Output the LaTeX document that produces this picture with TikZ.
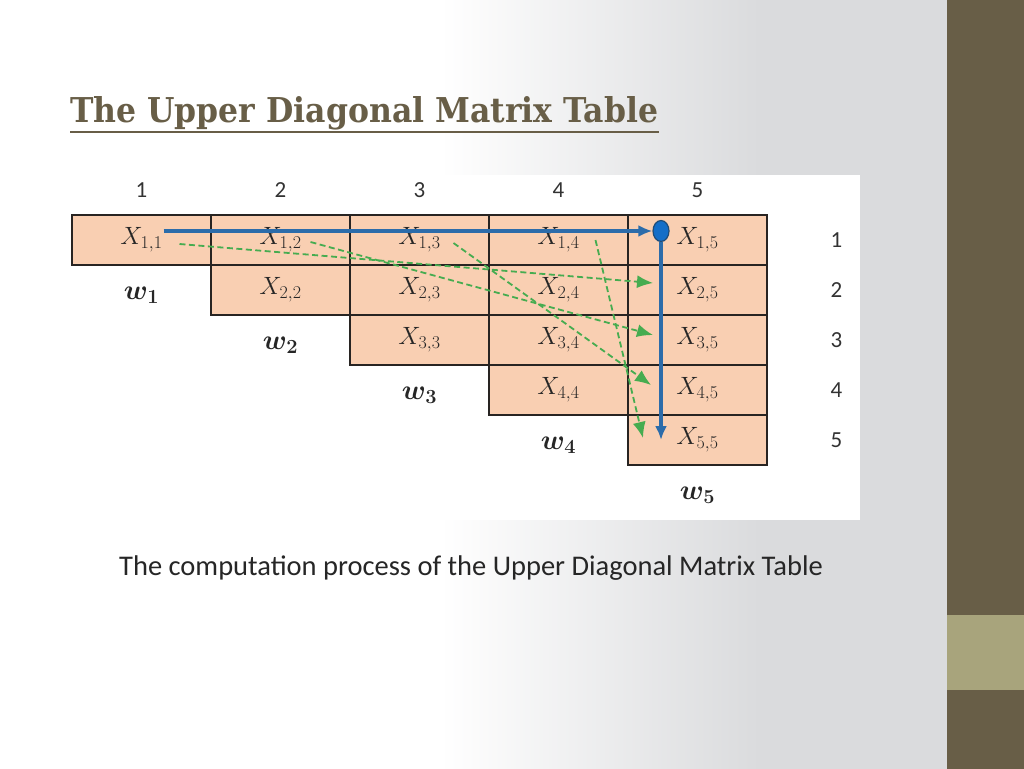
\RequirePackage{fix-cm}
\documentclass[tikz,border=0pt]{standalone}
\usepackage{fontspec}
\usepackage{bm}
\setmainfont{Carlito}
\newfontfamily\titlefont{DejaVu Serif}
\DeclareMathSizes{25}{25}{18}{13}
\DeclareMathSizes{28}{28}{20}{14}
\usetikzlibrary{positioning, arrows.meta, calc, shapes.geometric}
\definecolor{slidegrey}{RGB}{218,219,221}
\definecolor{sidedark}{RGB}{104,94,71}
\definecolor{sidelight}{RGB}{168,164,124}
\definecolor{cellfill}{RGB}{249,207,178}
\definecolor{cellline}{RGB}{40,36,34}
\definecolor{pathblue}{RGB}{44,108,170}
\definecolor{dotblue}{RGB}{20,110,200}
\definecolor{stepgreen}{RGB}{70,172,80}
\tikzset{
	>={Latex[length=14pt,width=12pt]}, % triangle heads
	cell/.style={draw=cellline, line width=1.4pt, fill=cellfill, minimum width=139pt, minimum height=50pt, inner sep=0pt, outer sep=0pt, font=\fontsize{25}{25}\selectfont, text=black!85},
	collab/.style={node distance=50pt, font=\fontsize{23}{23}\selectfont, text=black!80},
	rowlab/.style={node distance=139pt, font=\fontsize{23}{23}\selectfont, text=black!80},
	wlab/.style={node distance=55pt, font=\fontsize{28}{28}\selectfont, text=black!85},
	mainpath/.style={->, draw=pathblue, line width=3.6pt},
	subpath/.style={-{Latex[length=16pt,width=13pt]}, draw=stepgreen, line width=1.8pt, dash pattern=on 6pt off 3.5pt},
	dot/.style={ellipse, draw=pathblue!70!black, line width=1.2pt, fill=dotblue, minimum width=16pt, minimum height=21pt, inner sep=0pt},
}

\begin{document}
\begin{tikzpicture}[x=1pt, y=-1pt]
	\useasboundingbox (0,0) rectangle (1024,768);
	
	% slide background
	\fill[white] (-2,-2) rectangle (947,770);
	\shade[left color=white, right color=slidegrey] (440,-2) rectangle (760,770);
	\fill[slidegrey] (759,-2) rectangle (947,770);
	\fill[sidedark] (947,-2) rectangle (1026,770);
	\fill[sidelight] (947,615) rectangle (1026,690);
	\fill[white] (70,175) rectangle (860,520);
	
	% Title
	\node[anchor=base west, inner sep=0pt, text=sidedark] (title) at (70,122) {\resizebox{588pt}{26pt}{\titlefont\bfseries The Upper Diagonal Matrix Table}};
	\draw[sidedark, line width=2pt] ($(title.base west)+(0,10)$) -- ($(title.base east)+(0,10)$);
	
	% Table
	\node[cell] (c11) at (141.5,240) {$X_{1,1}$};
	\node[cell, right=0pt of c11] (c12) {$X_{1,2}$};
	\node[cell, right=0pt of c12] (c13) {$X_{1,3}$};
	\node[cell, right=0pt of c13] (c14) {$X_{1,4}$};
	\node[cell, right=0pt of c14] (c15) {$X_{1,5}$};
	\node[cell, below=0pt of c12] (c22) {$X_{2,2}$};
	\node[cell, right=0pt of c22] (c23) {$X_{2,3}$};
	\node[cell, right=0pt of c23] (c24) {$X_{2,4}$};
	\node[cell, right=0pt of c24] (c25) {$X_{2,5}$};
	\node[cell, below=0pt of c23] (c33) {$X_{3,3}$};
	\node[cell, right=0pt of c33] (c34) {$X_{3,4}$};
	\node[cell, right=0pt of c34] (c35) {$X_{3,5}$};
	\node[cell, below=0pt of c34] (c44) {$X_{4,4}$};
	\node[cell, right=0pt of c44] (c45) {$X_{4,5}$};
	\node[cell, below=0pt of c45] (c55) {$X_{5,5}$};
	
	% Column and row numbers
	\node[collab, above of=c11] (col1) {1};
	\node[collab, above of=c12] (col2) {2};
	\node[collab, above of=c13] (col3) {3};
	\node[collab, above of=c14] (col4) {4};
	\node[collab, above of=c15] (col5) {5};
	\node[rowlab, right of=c15] (row1) {1};
	\node[rowlab, right of=c25] (row2) {2};
	\node[rowlab, right of=c35] (row3) {3};
	\node[rowlab, right of=c45] (row4) {4};
	\node[rowlab, right of=c55] (row5) {5};
	
	% Weights
	\node[wlab, below of=c11] (w1) {$\bm{w_1}$};
	\node[wlab, below of=c22] (w2) {$\bm{w_2}$};
	\node[wlab, below of=c33] (w3) {$\bm{w_3}$};
	\node[wlab, below of=c44] (w4) {$\bm{w_4}$};
	\node[wlab, below of=c55] (w5) {$\bm{w_5}$};
	
	% Computation of X_{1,5}
	\node[dot] (dot) at ($(c15.west)+(33,-9)$) {};
	\coordinate (start) at ($(c11.center)+(22,-9)$);
	\coordinate (end) at ($(c55.west)+(33,0)$);
	\coordinate (g1) at ($(c11.center)+(38,4)$);
	\coordinate (g2) at ($(c12.center)+(30,2)$);
	\coordinate (g3) at ($(c13.center)+(34,3)$);
	\coordinate (g4) at ($(c14.center)+(37,0)$);
	\coordinate (t2) at ($(c25.west)+(25,-7)$);
	\coordinate (t3) at ($(c35.west)+(25,-5)$);
	\coordinate (t4) at ($(c45.west)+(23,-5)$);
	\coordinate (t5) at ($(c55.west)+(15,-2)$);
	
	\draw[subpath] (g1) -- (t2);
	\draw[subpath] (g2) -- (t3);
	\draw[subpath] (g3) -- (t4);
	\draw[subpath] (g4) -- (t5);
	\draw[mainpath] (start) -- (dot.west);
	\draw[mainpath] (dot.south) -- (end);
	
	% Caption
	\node[anchor=base, font=\fontsize{28.5}{28.5}\selectfont, text=black!85] (caption) at (471,575) {The computation process of the Upper Diagonal Matrix Table};
	
\end{tikzpicture}
\end{document}
